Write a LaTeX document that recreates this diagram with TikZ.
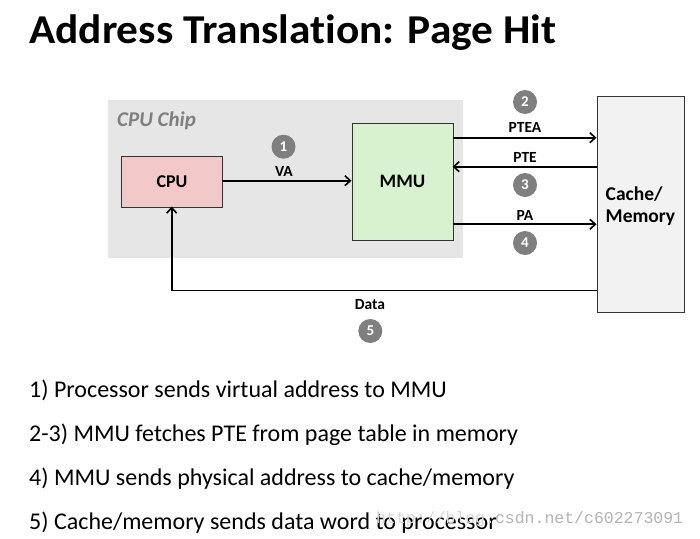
\documentclass[tikz,border=0pt]{standalone}
\usepackage{fontspec}
\setmainfont{Carlito}[Ligatures=NoCommon]
\newfontfamily\wmfont{Liberation Mono}
\usetikzlibrary{arrows.meta}
\definecolor{chipgray}{HTML}{E6E6E6}
\definecolor{cpupink}{HTML}{F2C8C8}
\definecolor{mmugreen}{HTML}{D8F2D0}
\definecolor{memgray}{HTML}{F2F2F2}
\definecolor{numgray}{HTML}{7F7F7F}
\definecolor{wmgray}{HTML}{B4B4B4}
\definecolor{wmlight}{HTML}{D8D8D8}
\tikzset{
  box/.style={draw=black!80, line width=1pt, inner sep=0pt},
  conn/.style={line width=1.8pt, -{Straight Barb[length=5.5pt,width=10pt,line width=1.6pt]}},
  lbl/.style={anchor=base, font=\fontsize{15.5}{17}\selectfont\bfseries, inner sep=0pt},
  num/.style={circle, fill=numgray, minimum size=24pt, inner sep=0pt, text=white, font=\fontsize{15}{17}\selectfont\bfseries},
  bodytext/.style={anchor=base west, inner sep=0pt, font=\fontsize{24}{28}\selectfont}
}
\begin{document}
\begin{tikzpicture}[x=1pt,y=-1pt]
\useasboundingbox[fill=white] (0,0) rectangle (700,538);
% title
\node[anchor=base west, inner sep=0pt, font=\fontsize{41}{46}\selectfont\bfseries] (title) at (29,43.5) {\resizebox{527pt}{\height}{Address Translation: Page Hit}};
% chip
\node[fill=chipgray, minimum width=355pt, minimum height=158pt, inner sep=0pt, anchor=north west] (chip) at (107.5,100) {};
\node[anchor=base west, inner sep=0pt, text=numgray, font=\fontsize{21}{23}\selectfont\bfseries\itshape] (chiplbl) at (117,126) {CPU Chip};
% boxes
\node[box, fill=cpupink, minimum width=101pt, minimum height=50.5pt, anchor=north west, font=\fontsize{18}{20}\selectfont\bfseries] (cpu) at (121,156) {CPU};
\node[box, fill=mmugreen, minimum width=101pt, minimum height=117pt, anchor=north west, font=\fontsize{19}{21}\selectfont\bfseries] (mmu) at (351.5,122.5) {MMU};
\node[box, fill=memgray, minimum width=87pt, minimum height=216pt, anchor=north west] (mem) at (596.5,96) {};
\node[anchor=base west, align=left, inner sep=0pt, font=\fontsize{19.5}{22}\selectfont\bfseries] (memlbl) at (605.5,222) {Cache/\\Memory};
% coordinates
\coordinate (cpuR) at (222,180.7);
\coordinate (mmuL) at (351.5,180.7);
\coordinate (mmuA) at (452.5,137.7);
\coordinate (memA) at (596.5,137.7);
\coordinate (memB) at (596.5,166.7);
\coordinate (mmuB) at (452.5,166.7);
\coordinate (mmuC) at (452.5,224.3);
\coordinate (memC) at (596.5,224.3);
\coordinate (memD) at (596.5,290.5);
\coordinate (corner) at (171.7,290.5);
\coordinate (cpuB) at (171.7,206.5);
% connectors
\draw[conn] (cpuR) -- (mmuL);
\draw[conn] (mmuA) -- (memA);
\draw[conn] (memB) -- (mmuB);
\draw[conn] (mmuC) -- (memC);
\draw[conn] (memD) -- (corner) -- (cpuB);
% labels
\node[lbl] (va) at (284,176) {VA};
\node[num] (n1) at (283.5,146.7) {1};
\node[lbl] (ptea) at (525,132.7) {PTEA};
\node[num] (n2) at (525,102) {2};
\node[lbl] (pte) at (525,162.3) {PTE};
\node[num] (n3) at (525,185) {3};
\node[lbl] (pa) at (525,220.7) {PA};
\node[num] (n4) at (525,243) {4};
\node[lbl] (data) at (370,309.3) {Data};
\node[num] (n5) at (370.3,331) {5};
% body text
\node[bodytext] (t1) at (29,397) {1) Processor sends virtual address to MMU};
\node[bodytext] (t2) at (29,441) {2-3) MMU fetches PTE from page table in memory};
\node[bodytext] (t3) at (29,485) {4) MMU sends physical address to cache/memory};
\node[bodytext] (t4) at (29,529) {5) Cache/memory sends data word to processor};
\node[anchor=base west, inner sep=0pt, font=\wmfont\fontsize{16.5}{18}\selectfont] (wm) at (376,523) {\textcolor{wmlight}{http://blog.}\textcolor{wmgray}{csdn.net/c602273091}};
\end{tikzpicture}
\end{document}
